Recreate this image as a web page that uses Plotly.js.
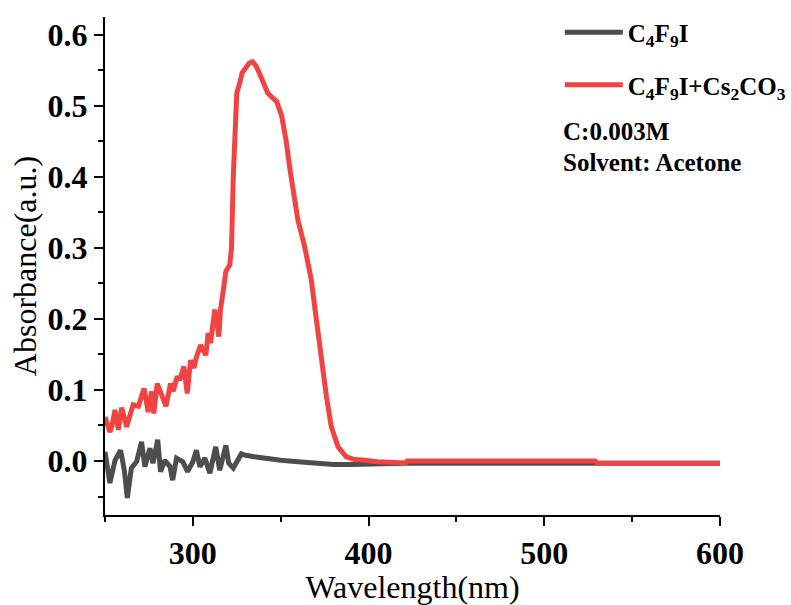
<!DOCTYPE html>
<html>
<head>
<meta charset="utf-8">
<script src="https://cdn.plot.ly/plotly-3.0.1.min.js"></script>
<style>html,body{margin:0;padding:0;background:#fff;}#chart{width:791px;height:605px;}</style>
</head>
<body>
<div id="chart"></div>
<script>
// Series 1: C4F9I (gray)
const grayX = [250, 252.8, 255.7, 258.9, 261, 262.7, 265, 268, 270.8, 272.7, 275.6, 277.3, 280, 281.6, 284, 287, 288.5, 290.7, 294.3, 297, 300, 302, 304, 306.8, 309.7, 313, 315.3, 318.8, 320.4, 323, 327.6, 330, 335, 340, 345, 350, 360, 370, 380, 390, 400, 420, 450, 500, 550, 600];
const grayY = [0.013, -0.031, 0.001, 0.015, -0.013, -0.052, -0.010, -0.001, 0.027, -0.008, 0.018, -0.003, 0.030, -0.015, 0.001, -0.008, -0.027, 0.004, -0.001, -0.015, -0.001, 0.015, -0.008, 0.004, -0.017, 0.020, -0.013, 0.022, -0.003, -0.010, 0.010, 0.008, 0.006, 0.004, 0.002, 0.001, -0.001, -0.003, -0.005, -0.005, -0.004, -0.003, -0.003, -0.003, -0.003, -0.003];

// Series 2: C4F9I + Cs2CO3 (red)
const redX = [250, 252.8, 254, 255.7, 257.6, 259.5, 262.3, 264, 266, 269, 272.2, 274.6, 276.5, 277.8, 279.7, 282.2, 284.7, 287.3, 288.8, 291.1, 292.6, 294.9, 296.8, 298.7, 300.6, 302.1, 304.4, 307.4, 308.7, 310, 312.5, 314.8, 315.7, 317.2, 318.8, 321, 322, 323, 324, 325, 327, 328, 330, 332, 334, 336, 338, 340, 342.6, 345, 347.7, 350.6, 353, 355.6, 359.8, 363.6, 367.4, 370.3, 373.1, 376, 378.8, 382.6, 387.3, 392, 396.6, 405, 415, 421, 422, 440, 460, 480, 500, 520, 529, 530, 545, 560, 575, 590, 600];
const redY = [0.062, 0.041, 0.050, 0.072, 0.044, 0.075, 0.048, 0.062, 0.079, 0.077, 0.102, 0.069, 0.098, 0.067, 0.109, 0.093, 0.077, 0.109, 0.098, 0.119, 0.114, 0.133, 0.095, 0.142, 0.131, 0.147, 0.163, 0.149, 0.180, 0.166, 0.213, 0.175, 0.213, 0.238, 0.267, 0.276, 0.300, 0.400, 0.490, 0.518, 0.535, 0.546, 0.553, 0.560, 0.562, 0.556, 0.545, 0.532, 0.518, 0.512, 0.506, 0.485, 0.452, 0.405, 0.339, 0.302, 0.255, 0.199, 0.142, 0.091, 0.048, 0.020, 0.006, 0.002, 0.0014, -0.001, -0.002, -0.003, 0.000, 0.000, 0.0005, 0.000, 0.000, 0.000, 0.000, -0.003, -0.003, -0.002, -0.003, -0.002, -0.003];

const seriesNames = ["C<sub>4</sub>F<sub>9</sub>I", "C<sub>4</sub>F<sub>9</sub>I+Cs<sub>2</sub>CO<sub>3</sub>"];
const noteLines = ["C:0.003M", "Solvent: Acetone"];
const xTitle = "Wavelength(nm)";
const yTitle = "Absorbance(a.u.)";

const FONT = "'Liberation Serif', 'Times New Roman', serif";

const traces = [
  {x: grayX, y: grayY, name: seriesNames[0], type: 'scatter', mode: 'lines', legendgroup: 'a',
   line: {color: '#4d4d4d', width: 5}},
  {x: redX, y: redY, name: seriesNames[1], type: 'scatter', mode: 'lines', legendgroup: 'b',
   line: {color: '#f24343', width: 5}}
];

const axisCommon = {
  showgrid: false, zeroline: false, showline: true, linecolor: '#000', linewidth: 2,
  ticks: 'outside', ticklen: 9, tickwidth: 2, tickcolor: '#000',
  tickfont: {family: FONT, size: 32, color: '#000', weight: 'bold'},
  mirror: false
};

const layout = {
  width: 791, height: 605,
  margin: {l: 105, r: 71, t: 17, b: 90, autoexpand: false},
  paper_bgcolor: '#fff', plot_bgcolor: '#fff',
  font: {family: FONT, color: '#000'},
  xaxis: Object.assign({}, axisCommon, {
    range: [250, 600], tickvals: [300, 400, 500, 600],
    minor: {tickvals: [250, 350, 450, 550], ticklen: 5, tickwidth: 2, tickcolor: '#000', ticks: 'outside'},
    title: {text: xTitle, font: {family: FONT, size: 32, color: '#000'}, standoff: 4}
  }),
  yaxis: Object.assign({}, axisCommon, {
    range: [-0.076, 0.625], tickvals: [0, 0.1, 0.2, 0.3, 0.4, 0.5, 0.6],
    ticktext: ['0.0', '0.1', '0.2', '0.3', '0.4', '0.5', '0.6'],
    minor: {tickvals: [-0.05, 0.05, 0.15, 0.25, 0.35, 0.45, 0.55], ticklen: 5, tickwidth: 2, tickcolor: '#000', ticks: 'outside'},
    title: {text: yTitle, font: {family: FONT, size: 32, color: '#000'}, standoff: 1}
  }),
  showlegend: true,
  legend: {
    x: 0.7395, y: 1.015, xanchor: 'left', yanchor: 'top',
    bgcolor: 'rgba(0,0,0,0)', borderwidth: 0, itemwidth: 58,
    font: {family: FONT, size: 25, color: '#000', weight: 'bold'},
    traceorder: 'grouped', tracegroupgap: 17
  },
  annotations: [
    {text: noteLines[0], xref: 'paper', yref: 'paper', x: 0.741, y: 0.771, xanchor: 'left', yanchor: 'middle',
     showarrow: false, font: {family: FONT, size: 25, color: '#000', weight: 'bold'}},
    {text: noteLines[1], xref: 'paper', yref: 'paper', x: 0.741, y: 0.707, xanchor: 'left', yanchor: 'middle',
     showarrow: false, font: {family: FONT, size: 25, color: '#000', weight: 'bold'}}
  ]
};

Plotly.newPlot('chart', traces, layout, {displayModeBar: false, staticPlot: true});
</script>
</body>
</html>
